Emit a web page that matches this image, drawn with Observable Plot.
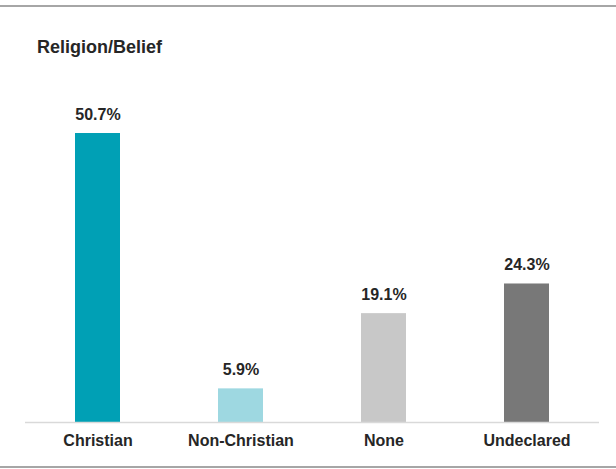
<!DOCTYPE html>
<html>
<head>
<meta charset="utf-8">
<script src="https://cdn.jsdelivr.net/npm/d3@7"></script>
<script src="https://cdn.jsdelivr.net/npm/@observablehq/plot@0.6"></script>
<style>
  html, body { margin: 0; padding: 0; background: #fff; }
  #wrap { position: relative; width: 616px; height: 469px; overflow: hidden; font-family: "Liberation Sans", Arial, sans-serif; }
  .border { position: absolute; left: 0; width: 616px; height: 2px; background: #a6a6a6; }
  #title { position: absolute; left: 37px; top: 38px; font-size: 18px; line-height: 18px; font-weight: bold; color: #262626; }
  #chart { position: absolute; left: 0; top: 0; }
</style>
</head>
<body>
<div id="wrap">
  <div class="border" style="top:5px"></div>
  <div id="title">Religion/Belief</div>
  <div id="chart"></div>
  <div class="border" style="top:466px"></div>
</div>
<script>
const categories = ["Christian", "Non-Christian", "None", "Undeclared"];
const values = [50.7, 5.9, 19.1, 24.3];
const colors = ["#00a0b5", "#9ed8e1", "#c8c8c8", "#787878"];

const data = categories.map((c, i) => ({category: c, value: values[i], color: colors[i]}));

const chart = Plot.plot({
  width: 616,
  height: 469,
  marginTop: 80,
  marginBottom: 47,
  marginLeft: 25,
  marginRight: 17,
  style: {fontFamily: "'Liberation Sans', Arial, sans-serif", background: "transparent", color: "#262626"},
  x: {domain: categories, paddingInner: 0.686, paddingOuter: 0.343, label: null},
  y: {domain: [0, 60], axis: null},
  marks: [
    Plot.barY(data, {x: "category", y: "value", fill: "color"}),
    Plot.ruleY([0], {stroke: "#d9d9d9", strokeWidth: 1.5}),
    Plot.text(data, {x: "category", y: "value", text: d => d.value.toFixed(1) + "%", dy: -19, fontSize: 16, fontWeight: "bold", fill: "#262626"}),
    Plot.axisX({tickSize: 0, tickPadding: 12, fontSize: 16, fontWeight: "bold", fill: "#262626", label: null})
  ]
});
document.getElementById("chart").appendChild(chart);
</script>
</body>
</html>
